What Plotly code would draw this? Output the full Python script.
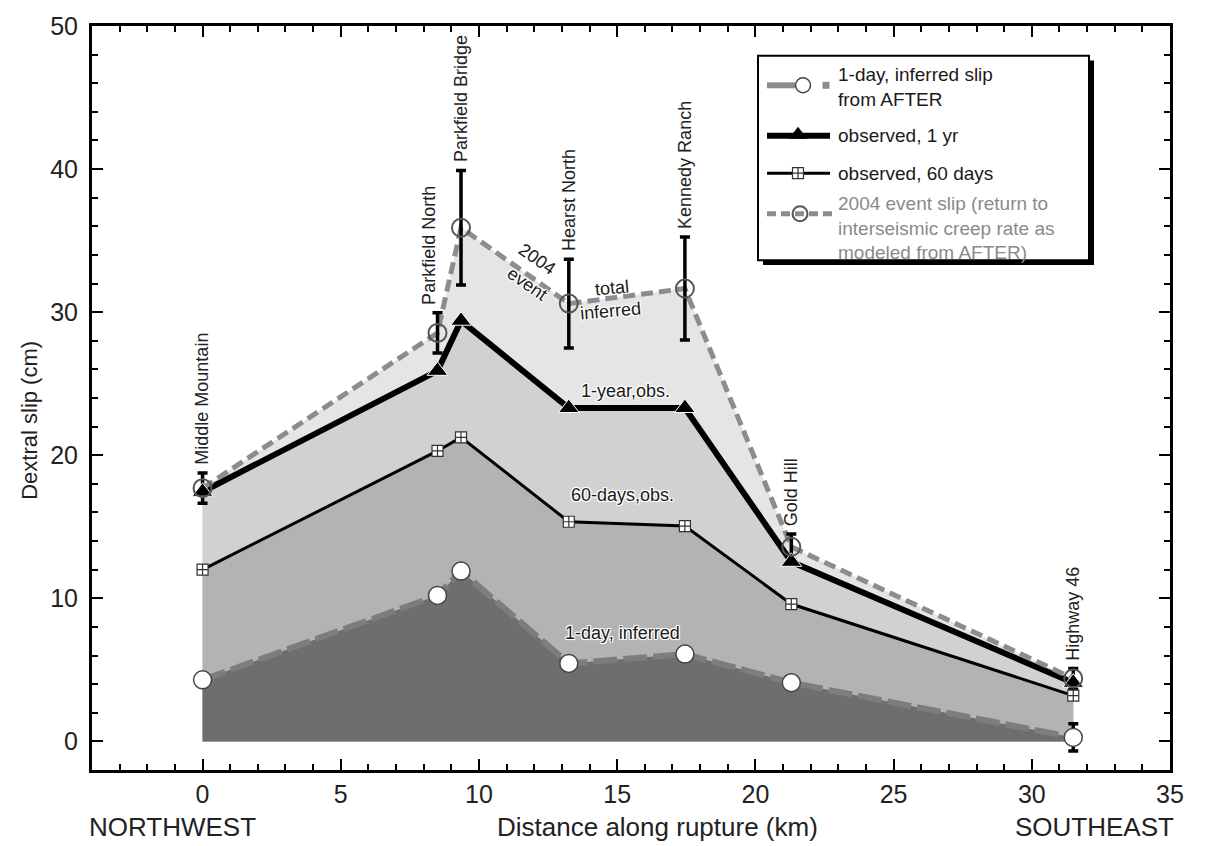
import plotly.graph_objects as go

# Stations along the 2004 Parkfield rupture, distance in km from Middle Mountain
stations = ["Middle Mountain", "Parkfield North", "Parkfield Bridge", "Hearst North",
            "Kennedy Ranch", "Gold Hill", "Highway 46"]
distance_km = [0.0, 8.5, 9.35, 13.25, 17.45, 21.3, 31.5]

# Dextral slip (cm)
slip_1day_inferred = [4.3, 10.2, 11.9, 5.45, 6.1, 4.1, 0.28]
slip_60day_obs = [12.0, 20.3, 21.25, 15.35, 15.05, 9.6, 3.2]
slip_1yr_obs = [17.45, 25.9, 29.4, 23.3, 23.3, 12.55, 4.1]
slip_2004_total = [17.7, 28.55, 35.9, 30.6, 31.65, 13.6, 4.4]
err_2004_total = [1.05, 1.4, 4.0, 3.1, 3.6, 0.9, 0.7]
err_1day_last = [0.96]

FONT = "Liberation Sans, Arial, Helvetica, sans-serif"
C_TOTAL_FILL = "#e5e5e5"
C_1YR_FILL = "#d1d1d1"
C_60D_FILL = "#b3b3b3"
C_1D_FILL = "#6e6e6e"
C_1D_LINE = "#7d7d7d"
C_DASH = "#8c8c8c"

fig = go.Figure()

# stacked gray bands, biggest first so each smaller one paints over it
for vals, col in [(slip_2004_total, C_TOTAL_FILL), (slip_1yr_obs, C_1YR_FILL),
                  (slip_60day_obs, C_60D_FILL), (slip_1day_inferred, C_1D_FILL)]:
    fig.add_trace(go.Scatter(x=distance_km, y=vals, mode="none", fill="tozeroy",
                             fillcolor=col, showlegend=False, hoverinfo="skip"))

# curves
fig.add_trace(go.Scatter(x=distance_km, y=slip_1day_inferred, mode="lines",
                         line=dict(color=C_1D_LINE, width=6, dash="24px,6px"),
                         showlegend=False))
fig.add_trace(go.Scatter(x=distance_km, y=slip_60day_obs, mode="lines",
                         line=dict(color="black", width=3), showlegend=False))
fig.add_trace(go.Scatter(x=distance_km, y=slip_1yr_obs, mode="lines",
                         line=dict(color="black", width=6), showlegend=False))
fig.add_trace(go.Scatter(x=distance_km, y=slip_2004_total, mode="lines",
                         line=dict(color=C_DASH, width=5, dash="12px,6px"),
                         showlegend=False))

# error bars on total inferred slip
fig.add_trace(go.Scatter(x=distance_km, y=slip_2004_total, mode="markers",
                         marker=dict(size=1, opacity=0),
                         error_y=dict(type="data", array=err_2004_total, color="black",
                                      thickness=3.5, width=5),
                         showlegend=False))
fig.add_trace(go.Scatter(x=distance_km[-1:], y=slip_1day_inferred[-1:], mode="markers",
                         marker=dict(size=1, opacity=0),
                         error_y=dict(type="data", array=err_1day_last, color="black",
                                      thickness=3.5, width=5),
                         showlegend=False))

# markers
fig.add_trace(go.Scatter(x=distance_km, y=slip_60day_obs, mode="markers",
                         marker=dict(symbol="square-cross", size=11, color="white",
                                     line=dict(color="#333333", width=1.2)),
                         showlegend=False))
fig.add_trace(go.Scatter(x=distance_km, y=slip_1day_inferred, mode="markers",
                         marker=dict(symbol="circle", size=18, color="white",
                                     line=dict(color="#444444", width=1.5)),
                         showlegend=False))
fig.add_trace(go.Scatter(x=distance_km, y=slip_1yr_obs, mode="markers",
                         marker=dict(symbol="triangle-up", size=18, color="black",
                                     line=dict(color="white", width=1)),
                         showlegend=False))
fig.add_trace(go.Scatter(x=distance_km, y=slip_2004_total, mode="markers",
                         marker=dict(symbol="circle-open", size=18, color="#555555",
                                     line=dict(width=2)),
                         showlegend=False))

annotations = []

# station names, written upward above the top of each error bar
name_xshift = {"Parkfield North": -8}
for name, xs, ys, es in zip(stations, distance_km, slip_2004_total, err_2004_total):
    annotations.append(dict(x=xs, y=ys + es, xref="x", yref="y", text=name,
                            textangle=-90, showarrow=False, xanchor="center",
                            yanchor="bottom", yshift=6, xshift=name_xshift.get(name, 0),
                            font=dict(family=FONT, size=18, color="#222222")))

# in-plot curve labels with a white halo
halo = "-1px -1px 0 #fff, 1px -1px 0 #fff, -1px 1px 0 #fff, 1px 1px 0 #fff, 0 0 3px #fff"
curve_labels = [
    ("2004", 12.1, 33.7, 35),
    ("event", 11.75, 31.95, 35),
    ("total", 14.8, 31.7, -5),
    ("inferred", 14.75, 30.1, -5),
    ("1-year,obs.", 15.3, 24.5, 0),
    ("60-days,obs.", 15.2, 17.2, 0),
    ("1-day, inferred", 15.2, 7.6, 0),
]
for txt, lx, ly, ang in curve_labels:
    annotations.append(dict(x=lx, y=ly, xref="x", yref="y", text=txt, textangle=ang,
                            showarrow=False,
                            font=dict(family=FONT, size=18, color="#1a1a1a", shadow=halo)))

# axis titles and compass directions
bottom_font = dict(family=FONT, size=26, color="#222222")
annotations += [
    dict(x=-0.058, y=0.47, xref="paper", yref="paper", text="Dextral slip (cm)",
         textangle=-90, showarrow=False, xanchor="center", yanchor="middle",
         font=dict(family=FONT, size=22, color="#222222")),
    dict(x=0.525, y=-0.077, xref="paper", yref="paper",
         text="Distance along rupture (km)", showarrow=False, xanchor="center",
         yanchor="middle", font=bottom_font),
    dict(x=-0.005, y=-0.077, xref="paper", yref="paper", text="NORTHWEST",
         showarrow=False, xanchor="left", yanchor="middle", font=bottom_font),
    dict(x=1.0056, y=-0.077, xref="paper", yref="paper", text="SOUTHEAST",
         showarrow=False, xanchor="right", yanchor="middle", font=bottom_font),
]


# legend box, drawn by hand (pixel helpers relative to the plotting area)
def px_x(p):
    return (p - 92) / 1078.0


def px_y(p):
    return (770 - p) / 753.0


shapes = [
    dict(type="rect", xref="paper", yref="paper", x0=px_x(763), x1=px_x(1094),
         y0=px_y(259), y1=px_y(52), fillcolor="black", line=dict(width=0), layer="below"),
    dict(type="rect", xref="paper", yref="paper", x0=px_x(758), x1=px_x(1089),
         y0=px_y(254), y1=px_y(47), fillcolor="white", line=dict(color="black", width=2),
         layer="below"),
    dict(type="line", xref="paper", yref="paper", x0=px_x(767), x1=px_x(795),
         y0=px_y(77), y1=px_y(77), line=dict(color=C_DASH, width=6), layer="below"),
    dict(type="line", xref="paper", yref="paper", x0=px_x(767), x1=px_x(830),
         y0=px_y(128), y1=px_y(128), line=dict(color="black", width=6), layer="below"),
    dict(type="line", xref="paper", yref="paper", x0=px_x(767), x1=px_x(830),
         y0=px_y(166), y1=px_y(166), line=dict(color="black", width=3), layer="below"),
    dict(type="line", xref="paper", yref="paper", x0=px_x(767), x1=px_x(832),
         y0=px_y(207), y1=px_y(207), line=dict(color=C_DASH, width=5, dash="9px,5px"),
         layer="below"),
]

legend_text = dict(family=FONT, size=19, color="#1a1a1a")
annotations += [
    dict(x=px_x(836), y=px_y(79), xref="paper", yref="paper",
         text="1-day, inferred slip<br>from AFTER", showarrow=False, xanchor="left",
         yanchor="middle", align="left", font=legend_text),
    dict(x=px_x(836), y=px_y(128), xref="paper", yref="paper", text="observed, 1 yr",
         showarrow=False, xanchor="left", yanchor="middle", font=legend_text),
    dict(x=px_x(836), y=px_y(166), xref="paper", yref="paper", text="observed, 60 days",
         showarrow=False, xanchor="left", yanchor="middle", font=legend_text),
    dict(x=px_x(836), y=px_y(221), xref="paper", yref="paper",
         text="2004 event slip (return to<br>interseismic creep rate as<br>modeled from AFTER)",
         showarrow=False, xanchor="left", yanchor="middle", align="left",
         font=dict(family=FONT, size=19, color="#8a8a8a")),
]

# legend symbols on a fixed 0..1 overlay axis
fig.add_trace(go.Scatter(x=[px_x(803)], y=[px_y(77)], xaxis="x2", yaxis="y2", mode="markers",
                         marker=dict(symbol="circle", size=15, color="white",
                                     line=dict(color="#444444", width=1.5)),
                         showlegend=False))
fig.add_trace(go.Scatter(x=[px_x(826)], y=[px_y(77)], xaxis="x2", yaxis="y2", mode="markers",
                         marker=dict(symbol="square", size=7, color=C_DASH),
                         showlegend=False))
fig.add_trace(go.Scatter(x=[px_x(798)], y=[px_y(127)], xaxis="x2", yaxis="y2", mode="markers",
                         marker=dict(symbol="triangle-up", size=16, color="black"),
                         showlegend=False))
fig.add_trace(go.Scatter(x=[px_x(798)], y=[px_y(166)], xaxis="x2", yaxis="y2", mode="markers",
                         marker=dict(symbol="square-cross", size=11, color="white",
                                     line=dict(color="#333333", width=1.2)),
                         showlegend=False))
fig.add_trace(go.Scatter(x=[px_x(800)], y=[px_y(207)], xaxis="x2", yaxis="y2", mode="markers",
                         marker=dict(symbol="circle-open", size=15, color="#555555",
                                     line=dict(width=2)),
                         showlegend=False))

axis_common = dict(showline=True, linecolor="black", linewidth=3, mirror="allticks",
                   ticks="inside", tickcolor="black", tickwidth=2, ticklen=11,
                   showgrid=False, zeroline=False,
                   tickfont=dict(family=FONT, size=25, color="#222222"))

fig.update_layout(
    width=1217, height=846,
    margin=dict(l=92, r=47, t=17, b=76),
    paper_bgcolor="white", plot_bgcolor="white",
    showlegend=False,
    xaxis=dict(range=[-4, 35], tickmode="array", tickvals=[0, 5, 10, 15, 20, 25, 30, 35],
               minor=dict(dtick=1, tick0=0, ticks="inside", ticklen=6, tickwidth=1.5,
                          tickcolor="black"),
               **axis_common),
    yaxis=dict(range=[-2, 50], tickmode="array", tickvals=[0, 10, 20, 30, 40, 50],
               ticklabelstandoff=6,
               minor=dict(dtick=2, tick0=0, ticks="inside", ticklen=6, tickwidth=1.5,
                          tickcolor="black"),
               **axis_common),
    xaxis2=dict(range=[0, 1], overlaying="x", visible=False, fixedrange=True),
    yaxis2=dict(range=[0, 1], overlaying="y", visible=False, fixedrange=True),
    shapes=shapes,
    annotations=annotations,
)

fig.write_html("out.html")
